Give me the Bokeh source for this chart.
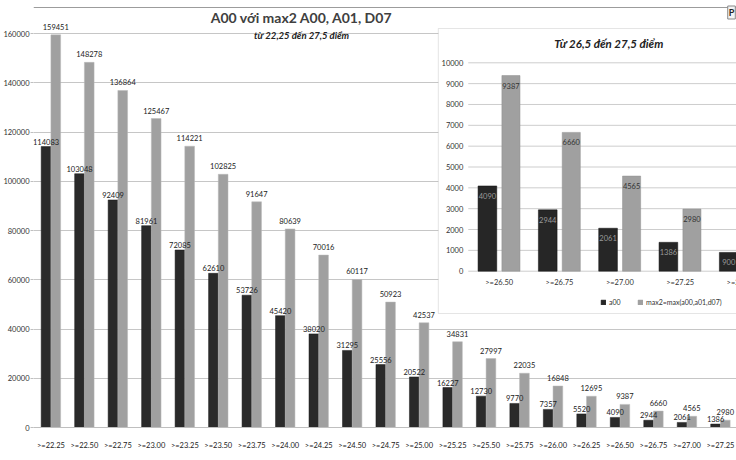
import numpy as np
from bokeh.plotting import figure
from bokeh.models import (Range1d, FixedTicker, NumeralTickFormatter, BoxAnnotation,
                          Label, Legend, LegendItem, Span)
from bokeh.core.properties import value
from bokeh.embed import file_html
from bokeh.resources import INLINE

# ---------------- data ----------------
categories = [">=22.25", ">=22.50", ">=22.75", ">=23.00", ">=23.25", ">=23.50", ">=23.75",
              ">=24.00", ">=24.25", ">=24.50", ">=24.75", ">=25.00", ">=25.25", ">=25.50",
              ">=25.75", ">=26.00", ">=26.25", ">=26.50", ">=26.75", ">=27.00", ">=27.25"]
a00 = [114083, 103048, 92409, 81961, 72085, 62610, 53726, 45420, 38020, 31295, 25556,
       20522, 16227, 12730, 9770, 7357, 5520, 4090, 2944, 2061, 1386]
max2 = [159451, 148278, 136864, 125467, 114221, 102825, 91647, 80639, 70016, 60117, 50923,
        42537, 34831, 27997, 22035, 16848, 12695, 9387, 6660, 4565, 2980]
main_y_ticks = list(range(0, 160001, 20000))

inset_categories = [">=26.50", ">=26.75", ">=27.00", ">=27.25", ">=27.50"]
inset_a00 = [4090, 2944, 2061, 1386, 900]
inset_max2 = [9387, 6660, 4565, 2980, 1900]
inset_y_ticks = list(range(0, 10001, 1000))

title_text = "A00 với max2 A00, A01, D07"
subtitle_text = "từ 22,25 đến 27,5 điểm"
inset_title_text = "Từ 26,5 đến 27,5 điểm"
series_names = ["a00", "max2=max(a00,a01,d07)"]

# ---------------- layout constants (pixels) ----------------
W, H = 736, 460
FL, FR, FT, FB = 31, 736, 2, 427
XS, XE = -0.52, 20.48
TOP_TICK_PX = 33
YMAX = main_y_ticks[-1] * (FB - FT) / (FB - TOP_TICK_PX)
FONT = "Lato"
DARK = "#2a2a2a"
GRAY = "#a0a0a0"


def mx(px):
    return XS + (px - FL) / (FR - FL) * (XE - XS)


def my(py):
    return (FB - py) / (FB - FT) * YMAX


# inset mapping
IX0, ISX = 498.0, 60.5
IY0, ISY = 270.7, 208.4 / 10000


def ix(px):
    return (px - IX0) / ISX


def iy(py):
    return (IY0 - py) / ISY


p = figure(width=W, height=H, output_backend="svg", toolbar_location=None,
           x_range=Range1d(XS, XE), y_range=Range1d(0, YMAX),
           min_border_left=FL, min_border_right=W - FR, min_border_top=FT,
           min_border_bottom=H - FB)
p.background_fill_color = "white"
p.border_fill_color = "white"
p.outline_line_color = None

p.xgrid.visible = False
p.ygrid.ticker = FixedTicker(ticks=main_y_ticks)
p.ygrid.grid_line_color = "#c6c6c6"

p.yaxis.ticker = FixedTicker(ticks=main_y_ticks)
p.yaxis.formatter = NumeralTickFormatter(format="0")
p.yaxis.axis_line_color = None
p.yaxis.major_tick_in = 0
p.yaxis.major_tick_out = 3
p.yaxis.major_tick_line_color = "#bfbfbf"
p.yaxis.minor_tick_line_color = None
p.yaxis.major_label_text_font = FONT
p.yaxis.major_label_text_font_size = "7.5px"
p.yaxis.major_label_text_color = "#333333"
p.yaxis.major_label_standoff = 1

idx = np.arange(len(categories))
p.xaxis.ticker = FixedTicker(ticks=list(idx))
p.xaxis.major_label_overrides = {int(i): c for i, c in zip(idx, categories)}
p.xaxis.major_tick_line_color = None
p.xaxis.minor_tick_line_color = None
p.xaxis.axis_line_color = "#bfbfbf"
p.xaxis.major_label_text_font = FONT
p.xaxis.major_label_text_font_size = "7.5px"
p.xaxis.major_label_text_color = "#222222"
p.xaxis.major_label_standoff = 7

# frame line at top of the picture
p.add_layout(Span(location=my(7), dimension="width", line_color="#9c9c9c", line_width=1))

# main bars
xd = idx - 0.145
xg = idx + 0.145
p.vbar(x=xd, top=a00, width=0.29, fill_color=DARK, line_color="#1a1a1a", line_width=0.5)
p.vbar(x=xg, top=max2, width=0.29, fill_color=GRAY, line_color="#b8b8b8", line_width=0.5)
p.text(x=xd, y=a00, text=[str(v) for v in a00], text_align="center", text_baseline="bottom",
       y_offset=-2, text_font=value(FONT), text_font_size="7.5px", text_color="#222222")
p.text(x=xg, y=max2, text=[str(v) for v in max2], text_align="center", text_baseline="bottom",
       y_offset=-5, text_font=value(FONT), text_font_size="7.5px", text_color="#222222")

# titles
p.add_layout(Label(x=mx(300), y=my(17), text=title_text, text_font=FONT, text_font_size="14px",
                   text_font_style="bold", text_color="#404040", text_align="center",
                   text_baseline="middle", level="overlay"))
p.add_layout(Label(x=mx(300), y=my(35), text=subtitle_text, text_font=FONT,
                   text_font_size="9.5px", text_font_style="bold italic", text_color="#222222",
                   text_align="center", text_baseline="middle", level="overlay"))

# ---------------- inset ----------------
p.extra_x_ranges = {"ix": Range1d(ix(FL), ix(FR))}
p.extra_y_ranges = {"iy": Range1d(iy(FB), iy(FT))}

box = BoxAnnotation(left=ix(437), top=iy(28), bottom=iy(313), x_range_name="ix",
                    y_range_name="iy", fill_color="white", fill_alpha=1.0,
                    line_color="#a8a8a8", line_width=1, level="annotation")
p.add_layout(box)

ni = len(inset_categories)
iidx = np.arange(ni)
grid_r = p.segment(x0=ix(467), x1=ni - 0.5, y0=inset_y_ticks, y1=inset_y_ticks,
                   line_color="#cdcdcd", line_width=1, x_range_name="ix", y_range_name="iy")
grid_r.level = "overlay"
rd = p.vbar(x=iidx - 0.195, top=inset_a00, width=0.31, fill_color="#262626",
            line_color="#111111", line_width=0.5, x_range_name="ix", y_range_name="iy")
rg = p.vbar(x=iidx + 0.195, top=inset_max2, width=0.30, fill_color=GRAY,
            line_color="#8f8f8f", line_width=0.5, x_range_name="ix", y_range_name="iy")
rd.level = "overlay"
rg.level = "overlay"
t1 = p.text(x=iidx - 0.195, y=inset_a00, text=[str(v) for v in inset_a00], text_align="center",
            text_baseline="middle", y_offset=10, text_font=value(FONT), text_font_size="7.5px",
            text_color="#9a9a9a", x_range_name="ix", y_range_name="iy")
t2 = p.text(x=iidx + 0.195, y=inset_max2, text=[str(v) for v in inset_max2], text_align="center",
            text_baseline="middle", y_offset=10, text_font=value(FONT), text_font_size="7.5px",
            text_color="#333333", x_range_name="ix", y_range_name="iy")
t3 = p.text(x=ix(462), y=inset_y_ticks, text=[str(v) for v in inset_y_ticks], text_align="right",
            text_baseline="middle", text_font=value(FONT), text_font_size="7.5px",
            text_color="#333333", x_range_name="ix", y_range_name="iy")
t4 = p.text(x=iidx, y=[0] * ni, text=inset_categories, text_align="center",
            text_baseline="middle", y_offset=11, text_font=value(FONT), text_font_size="7.5px",
            text_color="#333333", x_range_name="ix", y_range_name="iy")
for r in (t1, t2, t3, t4):
    r.level = "overlay"

p.add_layout(Label(x=ix(608), y=iy(43), text=inset_title_text, text_font=FONT,
                   text_font_size="11.5px", text_font_style="bold italic", text_color="#222222",
                   text_align="center", text_baseline="middle", x_range_name="ix",
                   y_range_name="iy", level="overlay"))

legend = Legend(items=[LegendItem(label=series_names[0], renderers=[rd]),
                       LegendItem(label=series_names[1], renderers=[rg])],
                orientation="horizontal", location=(567, 121), padding=2, margin=0,
                spacing=8, label_standoff=3, glyph_width=6, glyph_height=6,
                label_text_font=FONT, label_text_font_size="7px", label_text_color="#333333",
                border_line_color=None, background_fill_alpha=0.0, level="overlay")
p.add_layout(legend)

# small window tab at the top-right corner of the picture
p.add_layout(Label(x=mx(731), y=my(12), text="P", text_font=FONT, text_font_size="9px",
                   text_font_style="bold", text_color="#222222", text_align="center",
                   text_baseline="middle", border_line_color="#888888",
                   background_fill_color="#f4f4f4", padding=1, level="overlay"))

open("out.html", "w").write(file_html(p, INLINE))
